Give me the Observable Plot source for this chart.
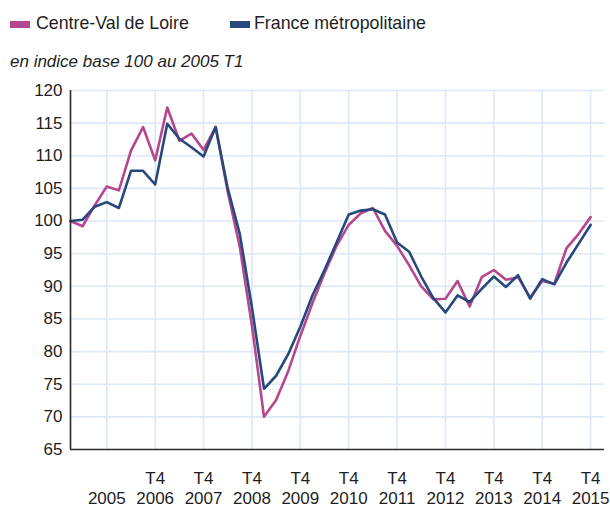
<!DOCTYPE html>
<html>
<head>
<meta charset="utf-8">
<script src="https://cdn.jsdelivr.net/npm/d3@7"></script>
<script src="https://cdn.jsdelivr.net/npm/@observablehq/plot@0.6"></script>
<style>
  html, body { margin: 0; padding: 0; background: #fff; }
  body { width: 610px; height: 508px; overflow: hidden; font-family: "Liberation Sans", Arial, sans-serif; color: #1e1e1e; }
  #head { position: relative; height: 75px; }
  .sw { position: absolute; width: 20px; height: 7px; }
  .lt { position: absolute; font-size: 17.8px; line-height: 1; white-space: nowrap; }
  .sub { position: absolute; font-size: 17px; font-style: italic; line-height: 1; white-space: nowrap; left: 10px; }
  #chart svg { display: block; }
</style>
</head>
<body>
<div id="head"></div>
<div id="chart"></div>
<script>
const quarters = [
  "2005 T1","2005 T2","2005 T3","2005 T4",
  "2006 T1","2006 T2","2006 T3","2006 T4",
  "2007 T1","2007 T2","2007 T3","2007 T4",
  "2008 T1","2008 T2","2008 T3","2008 T4",
  "2009 T1","2009 T2","2009 T3","2009 T4",
  "2010 T1","2010 T2","2010 T3","2010 T4",
  "2011 T1","2011 T2","2011 T3","2011 T4",
  "2012 T1","2012 T2","2012 T3","2012 T4",
  "2013 T1","2013 T2","2013 T3","2013 T4",
  "2014 T1","2014 T2","2014 T3","2014 T4",
  "2015 T1","2015 T2","2015 T3","2015 T4"
];
const centreValDeLoire = [
  100, 99.2, 102.4, 105.3,
  104.7, 110.8, 114.4, 109.3,
  117.4, 112.3, 113.4, 110.9,
  114.4, 104.5, 96.0, 84.0,
  70.0, 72.6, 77.0, 82.4,
  87.4, 92.0, 96.2, 99.4,
  101.2, 102.0, 98.5, 96.2,
  93.2, 90.0, 88.0, 88.1,
  90.8, 86.9, 91.4, 92.5,
  91.0, 91.4, 88.3, 90.8,
  90.4, 95.8, 98.0, 100.6
];
const franceMetropolitaine = [
  100, 100.2, 102.2, 102.9,
  102.0, 107.7, 107.7, 105.6,
  114.9, 112.6, 111.3, 109.9,
  114.4, 105.0, 98.0, 86.8,
  74.3, 76.3, 79.6, 83.8,
  88.6, 92.5, 96.7, 101.0,
  101.6, 101.8, 101.0, 96.7,
  95.3, 91.5, 88.2, 86.0,
  88.6, 87.6, 89.6, 91.5,
  89.9, 91.7, 88.1, 91.1,
  90.3, 93.6, 96.5, 99.4
];
const seriesNames = ["Centre-Val de Loire", "France métropolitaine"];
const seriesColors = ["#b5478f", "#27487c"];
const subtitle = "en indice base 100 au 2005 T1";
const xTickQuarters = ["2005 T4","2006 T4","2007 T4","2008 T4","2009 T4","2010 T4","2011 T4","2012 T4","2013 T4","2014 T4","2015 T4"];
const xTickTop = ["", "T4","T4","T4","T4","T4","T4","T4","T4","T4","T4"];
const xTickBottom = ["2005","2006","2007","2008","2009","2010","2011","2012","2013","2014","2015"];
const yTicks = [65,70,75,80,85,90,95,100,105,110,115,120];

// header: legend + subtitle
const head = document.getElementById("head");
const legendPos = [[10, 36], [230, 254]];
seriesNames.forEach((name, k) => {
  const sw = document.createElement("div");
  sw.className = "sw";
  sw.style.left = legendPos[k][0] + "px";
  sw.style.top = "20.5px";
  sw.style.background = seriesColors[k];
  head.appendChild(sw);
  const t = document.createElement("div");
  t.className = "lt";
  t.style.left = legendPos[k][1] + "px";
  t.style.top = "15px";
  t.textContent = name;
  head.appendChild(t);
});
const sub = document.createElement("div");
sub.className = "sub";
sub.style.top = "52.6px";
sub.textContent = subtitle;
head.appendChild(sub);

const data = [];
quarters.forEach((q, i) => {
  data.push({i, q, v: centreValDeLoire[i], s: seriesNames[0]});
});
quarters.forEach((q, i) => {
  data.push({i, q, v: franceMetropolitaine[i], s: seriesNames[1]});
});
const ticks = xTickQuarters.map((q, k) => ({i: quarters.indexOf(q), top: xTickTop[k], bottom: xTickBottom[k]}));

const chart = Plot.plot({
  width: 610,
  height: 433,
  marginTop: 15,
  marginBottom: 59,
  marginLeft: 70,
  marginRight: 6,
  style: {fontFamily: "Liberation Sans, Arial, sans-serif", fontSize: "17px", color: "#1e1e1e", background: "#fff"},
  x: {domain: [0, 44.15], axis: null},
  y: {domain: [65, 120], axis: null},
  color: {domain: seriesNames, range: seriesColors},
  marks: [
    Plot.gridY(yTicks.slice(1), {stroke: "#dce8f6", strokeOpacity: 1, strokeWidth: 1.6}),
    Plot.gridX(ticks.map(d => d.i), {stroke: "#dce8f6", strokeOpacity: 1, strokeWidth: 1.6}),
    Plot.axisY(yTicks, {tickSize: 0, tickPadding: 8, fontSize: 17, fill: "#1e1e1e", label: null}),
    Plot.text(ticks, {x: "i", y: () => 65, text: "top", dy: 29.5, fontSize: 17, fill: "#1e1e1e"}),
    Plot.text(ticks, {x: "i", y: () => 65, text: "bottom", dy: 49.3, fontSize: 17, fill: "#1e1e1e"}),
    Plot.line(data, {x: "i", y: "v", z: "s", stroke: "s", strokeWidth: 2.6, strokeLinejoin: "round"}),
    Plot.ruleX([0], {stroke: "#2a2a2a", strokeWidth: 1.6}),
    Plot.ruleY([65], {stroke: "#2a2a2a", strokeWidth: 1.6})
  ]
});
document.getElementById("chart").appendChild(chart);
</script>
</body>
</html>
